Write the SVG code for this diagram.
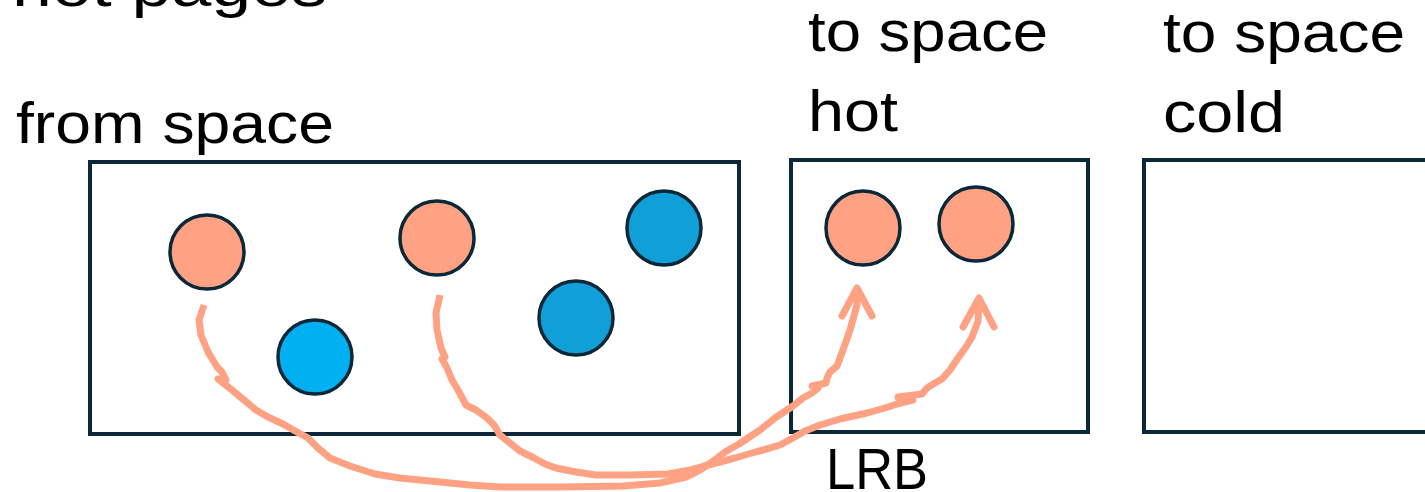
<svg xmlns="http://www.w3.org/2000/svg" width="1425" height="492" viewBox="0 0 1425 492">
<style>
.lbl{font-family:"Liberation Sans",Arial,sans-serif;font-size:58px;fill:#000}
.box{fill:#fff;stroke:#0a2838;stroke-width:4}
.hot{fill:#ffa283;stroke:#0a2838;stroke-width:3.5}
.cold{fill:#109fd6;stroke:#0a2838;stroke-width:3.5}
.cold2{fill:#00b0f0;stroke:#0a2838;stroke-width:3.5}
.ink{fill:none;stroke:#ffa283;stroke-width:7;stroke-linejoin:round}
.head{fill:none;stroke:#ffa283;stroke-width:7;stroke-linejoin:round;stroke-linecap:round}
</style>
<rect width="1425" height="492" fill="#fff"/>
<text class="lbl" x="12" y="6" textLength="315" lengthAdjust="spacingAndGlyphs">hot pages</text>
<g id="from-space">
<text class="lbl" x="16" y="143" textLength="318" lengthAdjust="spacingAndGlyphs">from space</text>
<rect class="box" x="90" y="162" width="649" height="272"/>
<circle class="hot" cx="207" cy="252" r="37"/>
<circle class="hot" cx="437" cy="238" r="37"/>
<circle class="cold" cx="664" cy="228" r="37"/>
<circle class="cold" cx="576" cy="318" r="37"/>
<circle class="cold2" cx="315" cy="357" r="37"/>
</g>
<g id="to-space-hot">
<text class="lbl" x="808" y="51" textLength="240" lengthAdjust="spacingAndGlyphs">to space</text>
<text class="lbl" x="808" y="131" textLength="90" lengthAdjust="spacingAndGlyphs">hot</text>
<rect class="box" x="791" y="160" width="297" height="272"/>
<circle class="hot" cx="863" cy="228" r="37"/>
<circle class="hot" cx="976" cy="224" r="37"/>
</g>
<g id="to-space-cold">
<text class="lbl" x="1163" y="52" textLength="242" lengthAdjust="spacingAndGlyphs">to space</text>
<text class="lbl" x="1163" y="132" textLength="122" lengthAdjust="spacingAndGlyphs">cold</text>
<rect class="box" x="1144" y="160" width="300" height="272"/>
</g>
<g id="connectors">
<polyline class="ink" points="204,305 199,320 201,335 208,352 217,367 222,372 226,380 218,379 232,390 244,400 256,410 268,417 283,424 297,432 308,438 318,448 330,458 350,466 375,474 400,478 440,482 470,485 500,487 560,487 623,486 660,483 686,477 700,470 712,462 725,452 739,444 760,430 775,418 793,406 803,398 812,393 818,388 812,386 826,383 827,378 830,372 837,366 843,350 850,330 857,305 857,290"/>
<polyline class="head" points="842,316 857,288 872,316"/>
<polyline class="ink" points="440,295 436,313 437,330 441,348 445,357 442,359 447,368 452,380 458,390 466,405 476,410 487,418 494,425 500,435 510,443 520,451 534,458 545,464 556,468 576,472 596,475 630,475 668,474 690,470 704,466 720,462 735,458 752,453 763,450 780,445 793,438 805,431 820,425 840,419 867,413 885,408 897,404 913,400 898,397 922,394 927,388 935,383 942,379 950,370 958,358 966,347 972,337 975,329 978,321 979,300"/>
<polyline class="head" points="963,327 979,298 994,327"/>
<text class="lbl" x="826" y="489" textLength="102" lengthAdjust="spacingAndGlyphs" font-size="54">LRB</text>
</g>
</svg>
